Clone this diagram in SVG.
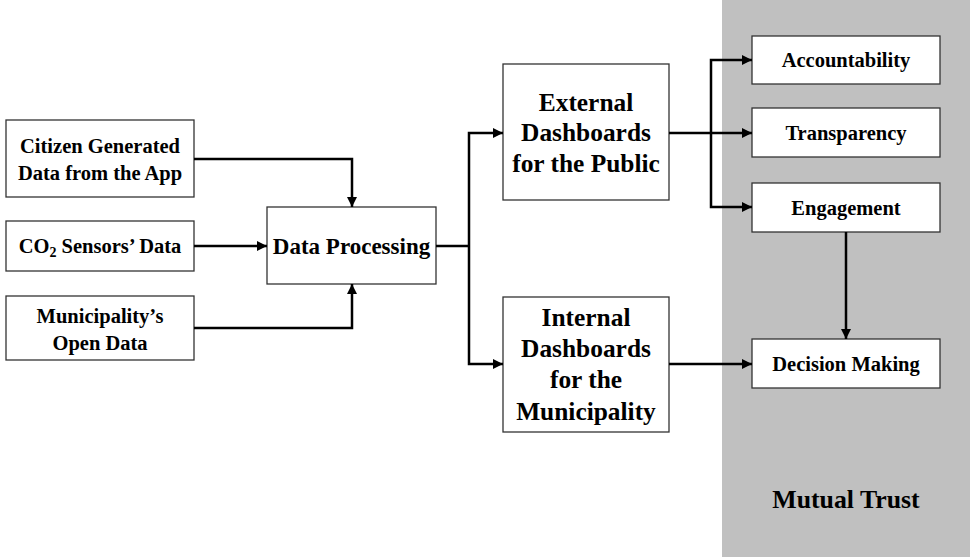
<svg xmlns="http://www.w3.org/2000/svg" width="970" height="557" viewBox="0 0 970 557">
<defs>
<marker id="ah" viewBox="0 0 10 10" refX="10" refY="5" markerWidth="4" markerHeight="4" orient="auto" markerUnits="strokeWidth">
<path d="M0,0 L10,5 L0,10 z" fill="#000"/>
</marker>
<style>
.box{fill:#fff;stroke:#333;stroke-width:1.3}
.t{font-family:"Liberation Serif","Times New Roman",serif;font-weight:bold;fill:#000;text-anchor:middle}
.s{font-size:20.5px}
.m{font-size:25.4px}
.r{font-size:20.5px}
.c{fill:none;stroke:#000;stroke-width:2.5;marker-end:url(#ah)}
.l{fill:none;stroke:#000;stroke-width:2.5}
</style>
</defs>
<rect x="722" y="0" width="248" height="557" fill="#c0c0c0"/>
<text class="t" font-size="25.8" x="846" y="508">Mutual Trust</text>

<g id="citizen">
<rect class="box" x="6" y="120" width="188" height="77"/>
<text class="t s" x="100" y="153">Citizen Generated</text>
<text class="t s" x="100" y="180">Data from the App</text>
</g>
<g id="co2">
<rect class="box" x="6" y="221" width="188" height="50"/>
<text class="t s" x="100" y="253">CO<tspan font-size="14px" dy="4">2</tspan><tspan dy="-4"> Sensors’ Data</tspan></text>
</g>
<g id="open">
<rect class="box" x="6" y="296" width="188" height="64"/>
<text class="t s" x="100" y="323">Municipality’s</text>
<text class="t s" x="100" y="350">Open Data</text>
</g>
<g id="processing">
<rect class="box" x="267" y="207" width="169" height="77"/>
<text class="t" font-size="23" x="351.5" y="254">Data Processing</text>
</g>
<g id="external">
<rect class="box" x="503" y="64" width="166" height="136"/>
<text class="t m" x="586" y="111">External</text>
<text class="t m" x="586" y="141">Dashboards</text>
<text class="t m" x="586" y="172">for the Public</text>
</g>
<g id="internal">
<rect class="box" x="503" y="297" width="166" height="135"/>
<text class="t m" x="586" y="326">Internal</text>
<text class="t m" x="586" y="357">Dashboards</text>
<text class="t m" x="586" y="388">for the</text>
<text class="t m" x="586" y="420">Municipality</text>
</g>
<g id="accountability">
<rect class="box" x="752" y="36" width="188" height="48"/>
<text class="t r" x="846" y="67">Accountability</text>
</g>
<g id="transparency">
<rect class="box" x="752" y="108" width="188" height="49"/>
<text class="t r" x="846" y="140">Transparency</text>
</g>
<g id="engagement">
<rect class="box" x="752" y="183" width="188" height="49"/>
<text class="t r" x="846" y="215">Engagement</text>
</g>
<g id="decision">
<rect class="box" x="752" y="339" width="188" height="49"/>
<text class="t r" x="846" y="371">Decision Making</text>
</g>

<g id="connectors">
<path class="c" d="M194,159 H352 V207"/>
<path class="c" d="M194,246 H267"/>
<path class="c" d="M194,328 H352 V284"/>
<path class="l" d="M436,246 H469"/>
<path class="c" d="M469,246 V133 H503"/>
<path class="c" d="M469,246 V364 H503"/>
<path class="c" d="M669,133 H752"/>
<path class="c" d="M711,133 V60 H752"/>
<path class="c" d="M711,133 V207 H752"/>
<path class="c" d="M846,232 V339"/>
<path class="c" d="M669,364 H752"/>
</g>
</svg>
